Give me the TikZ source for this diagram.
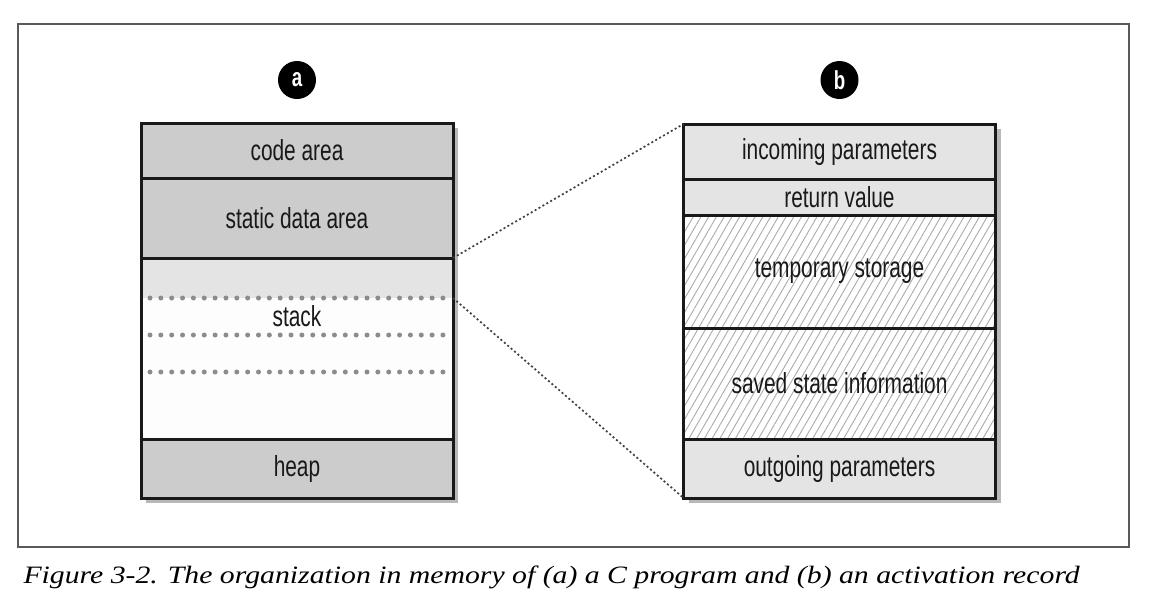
\documentclass[tikz,border=0pt]{standalone}
\usepackage{fontspec}
\newfontfamily\condfont[FakeStretch=0.72]{Liberation Sans}
\newfontfamily\capfont[FakeStretch=1.19]{Liberation Serif}
\usetikzlibrary{positioning,shadows,patterns.meta}
\definecolor{areagray}{RGB}{204,204,204}
\definecolor{recgray}{RGB}{228,228,228}
\definecolor{stackwhite}{RGB}{253,253,253}
\definecolor{hatchgray}{RGB}{170,170,170}
\tikzset{
    memcell/.style={rectangle, draw=black!90, line width=3pt, minimum width=312pt, outer sep=0pt, inner sep=0pt, text=black!90, text centered, font=\condfont\fontsize{29}{33}\selectfont, drop shadow={shadow xshift=5pt, shadow yshift=-5pt, fill=black, opacity=0.28}},
    areabox/.style={memcell, fill=areagray},
    recbox/.style={memcell, fill=recgray},
    hatchbox/.style={memcell, preaction={fill=white}, preaction={pattern={Lines[angle=60, distance=6.7pt, line width=0.9pt]}, pattern color=hatchgray}},
    badge/.style={circle, fill=black, text=white, minimum size=38pt, inner sep=0pt, outer sep=0pt, font=\condfont\bfseries\fontsize{26}{26}\selectfont},
    stackdots/.style={draw=black!45, line width=5pt, line cap=round, dash pattern=on 0pt off 10.85pt},
    zoomline/.style={draw=black!75, line width=1.7pt, dash pattern=on 2pt off 2.5pt},
}
\begin{document}
\begin{tikzpicture}[x=1pt, y=-1pt]
    \useasboundingbox (0,0) rectangle (1150,600);
    \draw[black!65, line width=1.8pt] (18,24) rectangle (1129,547);
    % (a) memory of a C program
    \node[areabox, minimum height=55pt] (code) at (297,150.5) {code area};
    \node[badge, above=24pt of code] (badgea) {a};
    \node[areabox, minimum height=80pt, below=0pt of code] (static) {static data area};
    \node[memcell, fill=stackwhite, minimum height=181pt, below=0pt of static,
      path picture={\fill[recgray] (path picture bounding box.north west) rectangle ([yshift=-40pt]path picture bounding box.north east);}] (stack) {};
    \foreach \d in {40,77,114}
      \draw[stackdots] ([xshift=9pt, yshift=-\d pt]stack.north west) -- ([xshift=-4pt, yshift=-\d pt]stack.north east);
    \node[text=black!90, font=\condfont\fontsize{29}{33}\selectfont] (stacklabel) at ([yshift=-58pt]stack.north) {stack};
    \node[areabox, minimum height=59pt, below=0pt of stack] (heap) {heap};
    \coordinate (stackcut) at ([yshift=-40pt]stack.north east);
    % (b) activation record
    \node[recbox, minimum height=55pt] (incoming) at (839.5,151.5) {incoming parameters};
    \node[badge, above=25pt of incoming] (badgeb) {b};
    \node[recbox, minimum height=36pt, below=0pt of incoming] (return) {return value};
    \node[hatchbox, minimum height=113pt, below=0pt of return] (temp) {temporary storage};
    \node[hatchbox, minimum height=111pt, below=0pt of temp] (saved) {saved state information};
    \node[recbox, minimum height=59pt, below=0pt of saved] (outgoing) {outgoing parameters};
    % zoom
    \draw[zoomline] (static.south east) -- (incoming.north west);
    \draw[zoomline] (stackcut) -- (outgoing.south west);
    \node[anchor=base west, font=\capfont\itshape\fontsize{25}{29}\selectfont] (caption) at (20,583)
      {Figure 3-2. The organization in memory of (a) a C program and (b) an activation record};
\end{tikzpicture}
\end{document}
